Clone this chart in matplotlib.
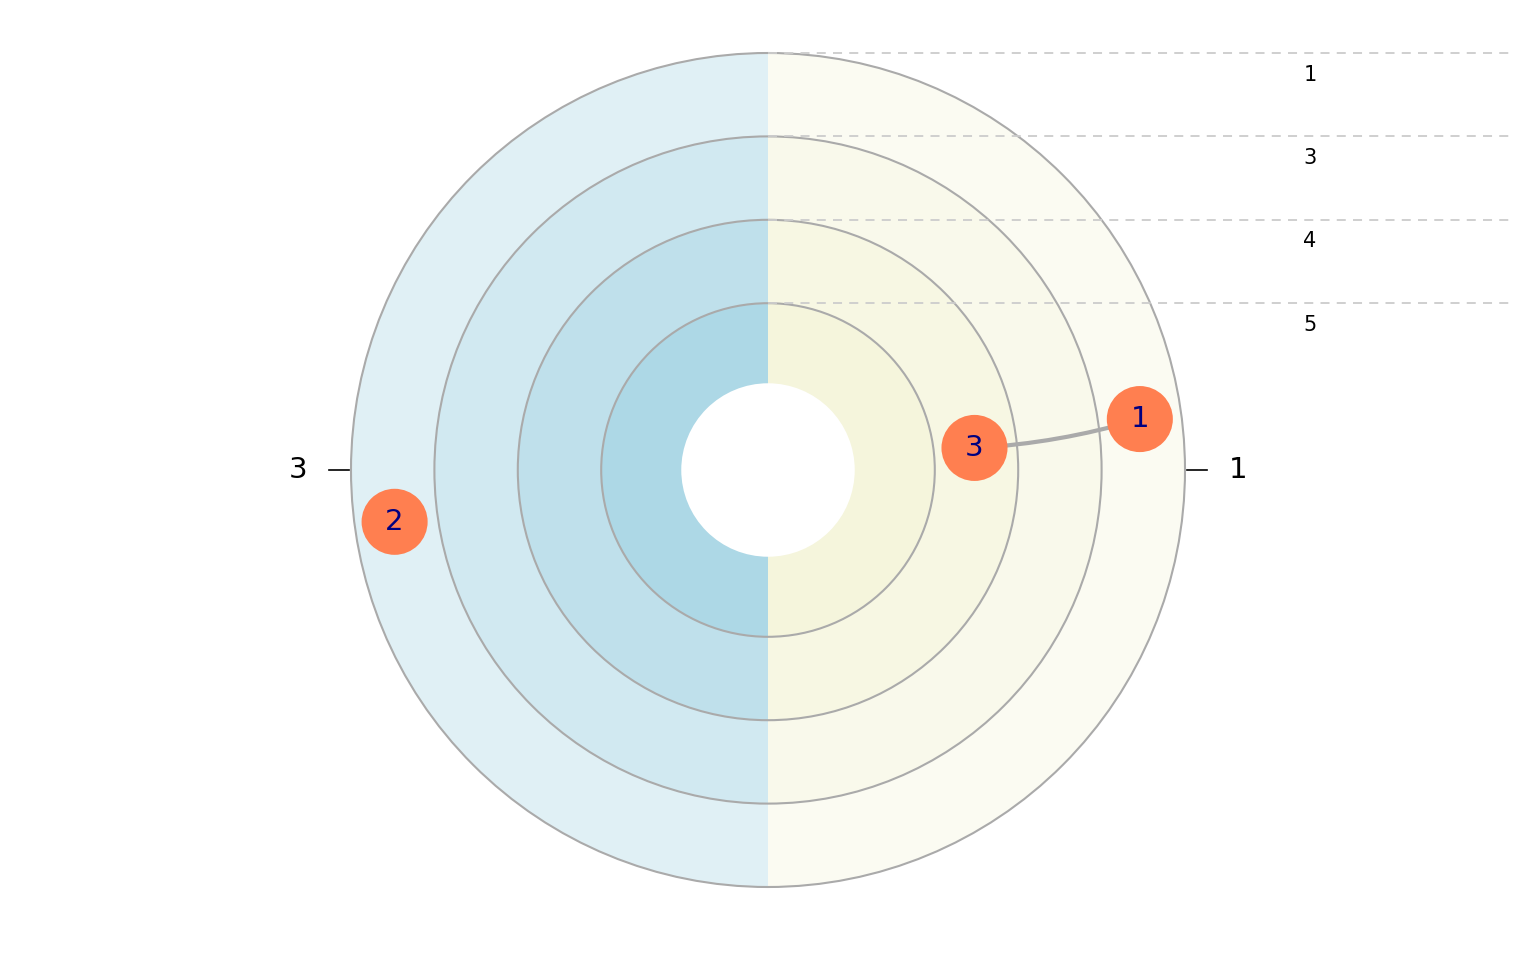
import numpy as np
import matplotlib.pyplot as plt
from matplotlib.patches import Wedge, Circle, FancyArrowPatch

# rings, outer to inner, and the two sectors (right half, left half)
ring_names = ["1", "3", "4", "5"]
ring_outer = [5, 4, 3, 2]
ring_inner = [4, 3, 2, 1.04]
ring_alpha = [0.37, 0.56, 0.78, 1.0]
sector_names = ["1", "3"]
sector_colors = ["#F5F5DC", "#ADD8E6"]
sector_start = [-90, 90]

# blips: label, radius, angle (deg)
blip_labels = ["1", "2", "3"]
blip_r = [4.5, 4.52, 2.49]
blip_theta = [7.8, 187.9, 6.1]
links = [("3", "1")]

S = 83.4  # px per ring unit
W, H = 1536, 960
cx, cy = 768, 470

fig = plt.figure(figsize=(W / 100, H / 100), dpi=100)
ax = fig.add_axes([0, 0, 1, 1])
ax.set_xlim(-cx / S, (W - cx) / S)
ax.set_ylim(-(H - cy) / S, cy / S)
ax.set_aspect("equal")
ax.axis("off")

for name, start, col in zip(sector_names, sector_start, sector_colors):
    for ro, ri, a in zip(ring_outer, ring_inner, ring_alpha):
        ax.add_patch(Wedge((0, 0), ro, start, start + 180, width=ro - ri,
                           facecolor=col, alpha=a, edgecolor="none", zorder=1))

for ro in ring_outer:
    ax.add_patch(Circle((0, 0), ro, fill=False, edgecolor="#AAAAAA", lw=1.5, zorder=2))

# ring legend on the right
for name, ro in zip(ring_names, ring_outer):
    ax.plot([0, (1513 - cx) / S], [ro, ro], color="#CCCCCC", lw=1.3,
            ls=(0, (5, 4)), zorder=3)
    ax.text(6.5, ro - 0.26, name, ha="center", va="center", fontsize=15)

# sector labels with ticks
R = max(ring_outer)
ax.plot([R + 0.02, R + 0.26], [0, 0], color="black", lw=1.2, zorder=3)
ax.plot([-R - 0.02, -R - 0.26], [0, 0], color="black", lw=1.2, zorder=3)
ax.text(R + 0.64, 0, sector_names[0], ha="center", va="center", fontsize=21)
ax.text(-R - 0.64, 0, sector_names[1], ha="center", va="center", fontsize=21)

# blips
pos = {}
for lab, r, t in zip(blip_labels, blip_r, blip_theta):
    t = np.deg2rad(t)
    pos[lab] = (r * np.cos(t), r * np.sin(t))

for a, b in links:
    ax.add_patch(FancyArrowPatch(pos[a], pos[b], arrowstyle="-",
                                 connectionstyle="arc3,rad=0.06",
                                 color="#AAAAAA", lw=3, zorder=4))

for lab, (x, y) in pos.items():
    ax.add_patch(Circle((x, y), 0.396, facecolor="#FF7F50", edgecolor="none", zorder=5))
    ax.text(x, y, lab, ha="center", va="center", fontsize=21, color="#000080", zorder=6)

fig.savefig("out.png", dpi=100)
